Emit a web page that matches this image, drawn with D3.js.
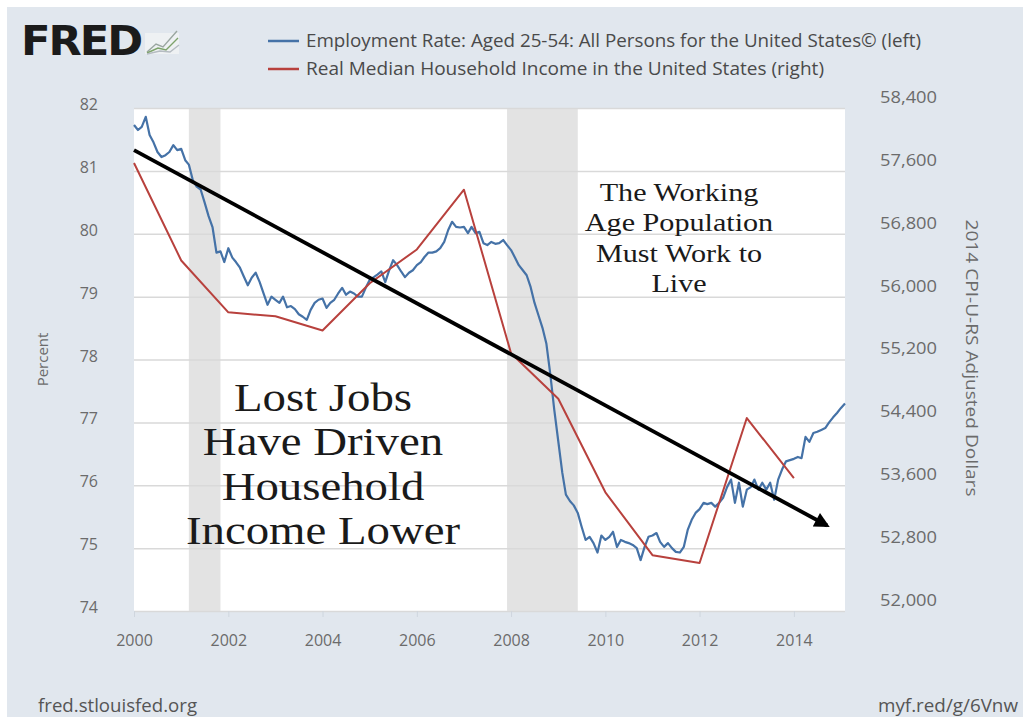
<!DOCTYPE html>
<html><head><meta charset="utf-8">
<script src="https://cdn.jsdelivr.net/npm/d3@7"></script>
<style>
html,body{margin:0;padding:0;background:#fff;}
svg{display:block;}
</style></head>
<body>
<svg id="chart" width="1023" height="717"></svg>
<script>
// ---------- data ----------
const startDate = "2000-01-01";
const endDate = "2015-02-01";
// Employment rate aged 25-54, monthly from Jan 2000 (percent)
const employmentRate = [
81.73,81.65,81.70,81.86,81.57,81.45,81.30,81.22,81.25,81.30,81.41,81.33,
81.35,81.17,81.10,80.85,80.75,80.70,80.50,80.28,80.10,79.70,79.72,79.55,
79.77,79.62,79.55,79.46,79.32,79.18,79.30,79.38,79.23,79.05,78.87,79.00,
78.95,78.90,79.00,78.83,78.85,78.80,78.72,78.68,78.63,78.79,78.90,78.95,
78.97,78.82,78.90,78.95,79.05,79.14,79.03,79.08,79.05,79.00,79.00,79.14,
79.27,79.31,79.35,79.40,79.23,79.42,79.58,79.50,79.40,79.31,79.38,79.42,
79.50,79.55,79.63,79.70,79.70,79.72,79.77,79.87,80.06,80.19,80.11,80.10,
80.11,80.01,80.11,80.01,80.03,79.85,79.82,79.87,79.84,79.85,79.90,79.82,
79.74,79.62,79.50,79.42,79.34,79.15,78.90,78.70,78.50,78.25,77.75,77.20,
76.70,76.20,75.85,75.75,75.68,75.56,75.34,75.13,75.18,75.08,74.93,75.20,
75.13,75.18,75.26,75.02,75.13,75.10,75.08,75.05,75.00,74.81,75.02,75.18,
75.20,75.24,75.10,75.02,75.08,75.00,74.94,74.93,75.02,75.29,75.45,75.56,
75.62,75.72,75.70,75.72,75.66,75.72,75.80,75.97,76.09,75.72,76.04,75.66,
75.93,75.97,76.09,75.93,76.04,75.93,76.04,75.77,76.09,76.25,76.38,76.40,
76.42,76.45,76.43,76.77,76.69,76.83,76.85,76.88,76.91,77.00,77.08,77.15,
77.23,77.30
];
// Real median household income, annual (2014 CPI-U-RS adjusted dollars)
const incomeYears = [2000,2001,2002,2003,2004,2005,2006,2007,2008,2009,2010,2011,2012,2013,2014];
const incomeValues = [57700,56460,55800,55750,55570,56170,56600,57360,55280,54700,53510,52710,52610,54455,53690];
// Recessions
const recessionStarts = ["2001-03-01","2007-12-01"];
const recessionEnds = ["2001-11-01","2009-06-01"];
// Ticks
const leftTicks = [74,75,76,77,78,79,80,81,82];
const rightTicks = [52000,52800,53600,54400,55200,56000,56800,57600,58400];
const xTickYears = [2000,2002,2004,2006,2008,2010,2012,2014];
// Trend arrow (start/end)
const arrowDates = ["2000-01-01","2014-09-15"];
const arrowValues = [81.33,75.36];
// Texts
const legendLabels = ["Employment Rate: Aged 25-54: All Persons for the United States\u00A9 (left)",
                      "Real Median Household Income in the United States (right)"];
const leftNote = ["Lost Jobs","Have Driven","Household","Income Lower"];
const rightNote = ["The Working","Age Population","Must Work to","Live"];

// ---------- layout ----------
const svg = d3.select("#chart");
const W = 1023, H = 717;
const plot = {l:134, r:845, t:108, b:611};
const parse = d3.timeParse("%Y-%m-%d");

const x = d3.scaleTime().domain([parse(startDate), parse(endDate)]).range([plot.l, plot.r]);
const yL = d3.scaleLinear().domain([74,82]).range([plot.b, plot.t]);
const yR = d3.scaleLinear().domain([52000,58400]).range([plot.b, plot.t]);

const blue = "#4572a7", red = "#b8413d";
const sans = "'Open Sans', 'Noto Sans', sans-serif";
const serif = "'Liberation Serif', 'DejaVu Serif', serif";

// background
svg.append("rect").attr("x",0).attr("y",0).attr("width",W).attr("height",H).attr("fill","#fff");
svg.append("rect").attr("x",7).attr("y",7).attr("width",W-7).attr("height",H-7).attr("fill","#e1e7ee");

// plot area
svg.append("rect").attr("x",plot.l).attr("y",plot.t).attr("width",plot.r-plot.l).attr("height",plot.b-plot.t).attr("fill","#fff");

// recessions
svg.append("g").selectAll("rect").data(recessionStarts.map((s,i)=>[parse(s),parse(recessionEnds[i])]))
  .join("rect")
  .attr("x",d=>x(d[0])).attr("width",d=>x(d[1])-x(d[0]))
  .attr("y",plot.t).attr("height",plot.b-plot.t).attr("fill","#e3e3e3");

// gridlines
const gridAxis = d3.axisLeft(yL).tickValues(leftTicks).tickSize(-(plot.r-plot.l)).tickFormat("");
const gg = svg.append("g").attr("transform",`translate(${plot.l},0)`).call(gridAxis);
gg.select(".domain").remove();
gg.selectAll("line").attr("stroke","#d9d9d9").attr("stroke-width",1.5);

// left axis labels
const la = svg.append("g").attr("transform",`translate(${plot.l-33},0)`)
  .call(d3.axisLeft(yL).tickValues(leftTicks).tickSize(0).tickFormat(d3.format("d")));
la.select(".domain").remove();
la.selectAll("text").attr("font-family",sans).attr("font-size",16).attr("fill","#6b6b6b").attr("dy","0.1em");

// right axis labels
const ra = svg.append("g").attr("transform",`translate(${plot.r+32},0)`)
  .call(d3.axisRight(yR).tickValues(rightTicks).tickSize(0).tickFormat(d3.format(",")));
ra.select(".domain").remove();
ra.selectAll("text").attr("font-family",sans).attr("font-size",16).attr("fill","#6b6b6b").attr("dy","-0.35em")
  .attr("textLength",57).attr("lengthAdjust","spacingAndGlyphs");

// x axis
const xa = svg.append("g").attr("transform",`translate(0,${plot.b})`)
  .call(d3.axisBottom(x).tickValues(xTickYears.map(yv=>new Date(yv,0,1))).tickSize(6).tickPadding(18).tickFormat(d3.timeFormat("%Y")));
xa.select(".domain").remove();
xa.selectAll("line").attr("stroke","#cfd6de");
xa.selectAll("text").attr("font-family",sans).attr("font-size",16).attr("fill","#6b6b6b");

// axis titles
svg.append("text").attr("transform",`translate(48,${(plot.t+plot.b)/2}) rotate(-90)`)
  .attr("text-anchor","middle").attr("font-family",sans).attr("font-size",15).attr("fill","#6b6b6b").text("Percent");
svg.append("text").attr("transform",`translate(966,358) rotate(90)`)
  .attr("text-anchor","middle").attr("font-family",sans).attr("font-size",17).attr("fill","#6b6b6b")
  .attr("textLength",277).attr("lengthAdjust","spacingAndGlyphs").text("2014 CPI-U-RS Adjusted Dollars");

// lines
const empData = employmentRate.map((v,i)=>({d:d3.timeMonth.offset(parse(startDate),i), v}));
const incData = incomeYears.map((yv,i)=>({d:new Date(yv,0,1), v:incomeValues[i]}));

svg.append("path").datum(empData)
  .attr("d",d3.line().x(d=>x(d.d)).y(d=>yL(d.v)))
  .attr("fill","none").attr("stroke",blue).attr("stroke-width",2.2).attr("stroke-linejoin","round");
svg.append("path").datum(incData)
  .attr("d",d3.line().x(d=>x(d.d)).y(d=>yR(d.v)))
  .attr("fill","none").attr("stroke",red).attr("stroke-width",2).attr("stroke-linejoin","round");

// arrow
svg.append("defs").append("marker").attr("id","ah")
  .attr("viewBox","0 0 10 10").attr("refX",8).attr("refY",5)
  .attr("markerWidth",4.5).attr("markerHeight",4).attr("orient","auto").attr("markerUnits","strokeWidth")
  .append("path").attr("d","M0,0 L10,5 L0,10 z").attr("fill","#000");
const arrowPts = arrowDates.map((s,i)=>[x(parse(s)), yL(arrowValues[i])]);
svg.append("line")
  .attr("x1",arrowPts[0][0]).attr("y1",arrowPts[0][1])
  .attr("x2",arrowPts[1][0]).attr("y2",arrowPts[1][1])
  .attr("stroke","#000").attr("stroke-width",3.8).attr("marker-end","url(#ah)");

// annotations
function block(lines, cx, y0, step, size, sx){
  const g = svg.append("g").attr("transform",`translate(${cx},0) scale(${sx},1)`);
  g.selectAll("text").data(lines).join("text")
    .attr("x",0).attr("y",(d,i)=>y0+i*step)
    .attr("text-anchor","middle").attr("font-family",serif).attr("font-size",size).attr("fill","#1a1a1a")
    .text(d=>d);
}
block(leftNote, 323, 411, 44.5, 40, 1.17);
block(rightNote, 679, 201, 30.5, 26, 1.16);

// legend
const lg = svg.append("g");
const legendWidths = [615, 518];
legendLabels.forEach((t,i)=>{
  const yy = 41 + i*28;
  lg.append("line").attr("x1",268).attr("x2",299).attr("y1",yy).attr("y2",yy)
    .attr("stroke",i===0?blue:red).attr("stroke-width",2.5);
  lg.append("text").attr("x",306).attr("y",yy+6).attr("font-family",sans).attr("font-size",17.5)
    .attr("fill","#4a4a4a").attr("textLength",legendWidths[i]).attr("lengthAdjust","spacingAndGlyphs").text(t);
});

// FRED logo
svg.append("text").attr("x",21).attr("y",55).attr("font-family","'DejaVu Sans', sans-serif")
  .attr("font-weight","bold").attr("font-size",41).attr("letter-spacing",-2).attr("fill","#1b1b1b")
  .attr("textLength",120).attr("lengthAdjust","spacingAndGlyphs").text("FRED");
const icon = svg.append("g").attr("fill","none").attr("stroke-width",1.4);
icon.append("rect").attr("x",145).attr("y",33).attr("width",34).attr("height",21).attr("fill","#eef1f3").attr("stroke","none");
icon.append("polyline").attr("points","147,52 156,44 163,47 177,31").attr("stroke","#9aa6a0");
icon.append("polyline").attr("points","147,53 158,48 166,50 178,38").attr("stroke","#7da36b");
icon.append("polyline").attr("points","147,54 160,51 170,52 179,45").attr("stroke","#b5bcc2");

// footer
svg.append("text").attr("x",38).attr("y",712).attr("font-family",sans).attr("font-size",17.5)
  .attr("fill","#555").attr("textLength",159).attr("lengthAdjust","spacingAndGlyphs").text("fred.stlouisfed.org");
svg.append("text").attr("x",878).attr("y",712).attr("font-family",sans).attr("font-size",17.5)
  .attr("fill","#555").attr("textLength",140).attr("lengthAdjust","spacingAndGlyphs").text("myf.red/g/6Vnw");
</script>
</body></html>
